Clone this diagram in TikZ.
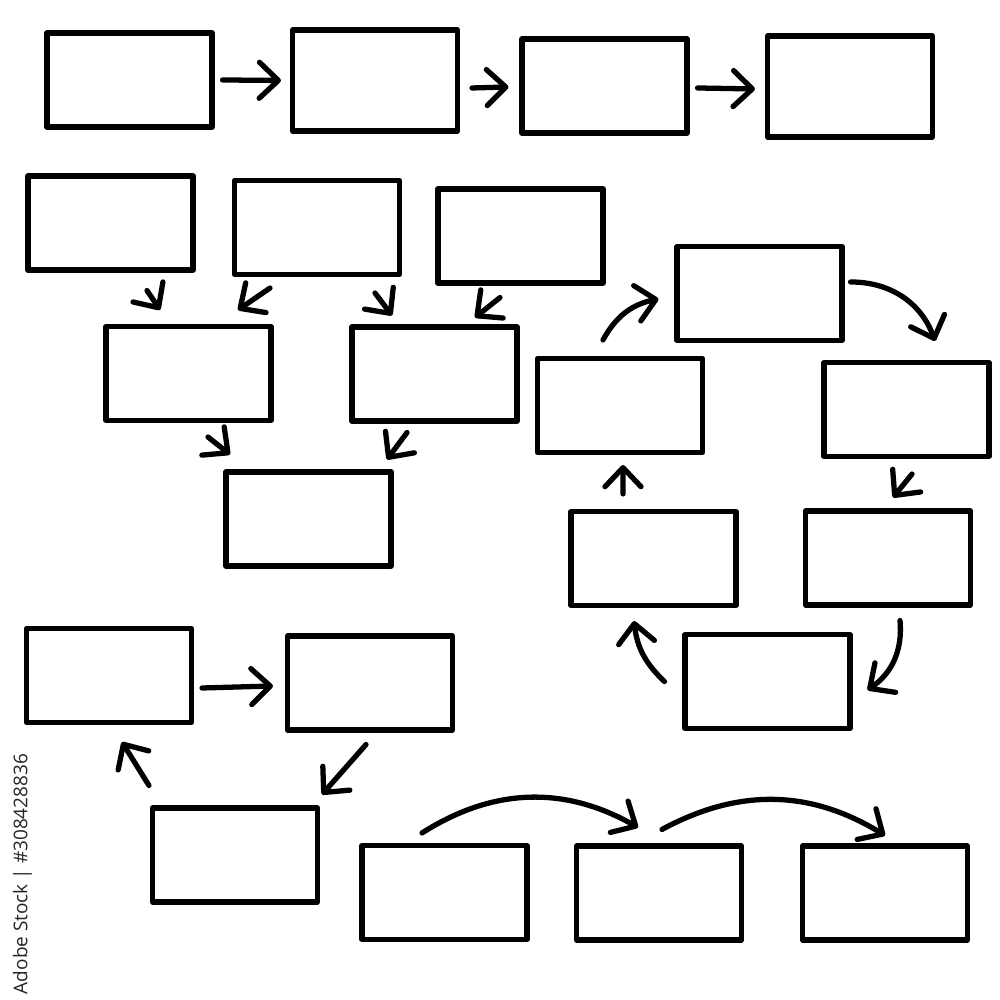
\documentclass[tikz,border=0pt]{standalone}
\usepackage{fontspec}
\newfontfamily\stockfont{Open Sans}
\usetikzlibrary{arrows.meta,calc,positioning}

\begin{document}
\begin{tikzpicture}[
  box/.style={draw,line width=1.45pt,line join=round,minimum width=1.65cm,minimum height=0.94cm,inner sep=0pt},
  arr/.style={line width=1.5pt,line cap=round,-{Straight Barb[length=1.9mm,width=3.6mm,round]}}]
\useasboundingbox (0,0) rectangle (10,10);
% top row
\node[box] (A1) at (1.295,9.20) {};
\node[box,minimum height=1.01cm] (A2) at (3.75,9.195) {};
\node[box] (A3) at (6.045,9.14) {};
\node[box,minimum height=1.01cm] (A4) at (8.50,9.135) {};
\draw[arr] ($(A1.east)+(0.08,0)$) -- ($(A2.west)+(-0.09,0)$);
\draw[arr] ($(A2.east)+(0.12,-0.075)$) -- ($(A3.west)+(-0.11,-0.01)$);
\draw[arr] ($(A3.east)+(0.08,-0.02)$) -- ($(A4.west)+(-0.10,-0.025)$);
% tree
\node[box] (B1) at (1.105,7.77) {};
\node[box] (B2) at (3.17,7.725) {};
\node[box] (B3) at (5.205,7.64) {};
\node[box] (C1) at (1.885,6.265) {};
\node[box] (C2) at (4.345,6.26) {};
\node[box] (D) at (3.085,4.81) {};
\draw[arr] ($(B1.south)+(0.365,-0.18)$) -- ($(C1.north)+(-0.285,0.14)$);
\draw[arr] ($(B2.south)+(-0.47,-0.11)$) -- ($(C1.north)+(0.495,0.14)$);
\draw[arr] ($(B2.south)+(0.58,-0.16)$) -- ($(C2.north)+(-0.425,0.09)$);
\draw[arr] ($(B3.south)+(-0.205,-0.12)$) -- ($(C2.north)+(0.405,0.07)$);
\draw[arr] ($(C1.south)+(0.195,-0.14)$) -- ($(D.north)+(-0.785,0.15)$);
\draw[arr] ($(C2.south)+(-0.275,-0.09)$) -- ($(D.north)+(0.785,0.10)$);
% cycle
\node[box] (E1) at (7.595,7.065) {};
\node[box] (E2) at (9.065,5.905) {};
\node[box] (E3) at (8.88,4.42) {};
\node[box] (E4) at (7.675,3.185) {};
\node[box] (E5) at (6.535,4.415) {};
\node[box] (E6) at (6.20,5.945) {};
\draw[arr] ($(E6.north)+(-0.17,0.16)$) to[bend left=25] ($(E1.west)+(-0.16,-0.055)$);
\draw[arr] ($(E1.east)+(0.06,0.115)$) to[bend left=35] ($(E2.north)+(0.285,0.19)$);
\draw[arr] ($(E2.south)+(0.055,-0.15)$) -- ($(E3.north)+(0.05,0.11)$);
\draw[arr] ($(E3.south)+(0.12,-0.13)$) to[bend left=30] ($(E4.east)+(0.15,-0.085)$);
\draw[arr] ($(E4.west)+(-0.18,0)$) to[bend left=20] ($(E5.south)+(-0.195,-0.13)$);
\draw[arr] ($(E5.north)+(-0.305,0.15)$) -- ($(E6.south)+(0.03,-0.10)$);
% small cycle
\node[box] (F1) at (1.09,3.245) {};
\node[box] (F2) at (3.70,3.17) {};
\node[box] (F3) at (2.35,1.45) {};
\draw[arr] ($(F1.east)+(0.08,-0.125)$) -- ($(F2.west)+(-0.12,-0.03)$);
\draw[arr] ($(F2.south)+(-0.04,-0.12)$) -- ($(F3.north)+(0.87,0.11)$);
\draw[arr] ($(F3.north west)+(-0.01,0.20)$) -- ($(F1.south)+(0.13,-0.17)$);
% bottom row
\node[box] (G1) at (4.445,1.075) {};
\node[box] (G2) at (6.59,1.07) {};
\node[box] (G3) at (8.85,1.07) {};
\draw[arr] ($(G1.north)+(-0.225,0.10)$) to[bend left=31] ($(G2.north)+(-0.21,0.16)$);
\draw[arr] ($(G2.north)+(0.03,0.14)$) to[bend left=30] ($(G3.north)+(0,0.08)$);
\node[rotate=90,text=black!85,font=\stockfont\fontsize{5.4pt}{6pt}\selectfont,inner sep=0pt] (stock) at (0.225,1.26) {Adobe Stock | \#308428836};
\end{tikzpicture}
\end{document}
